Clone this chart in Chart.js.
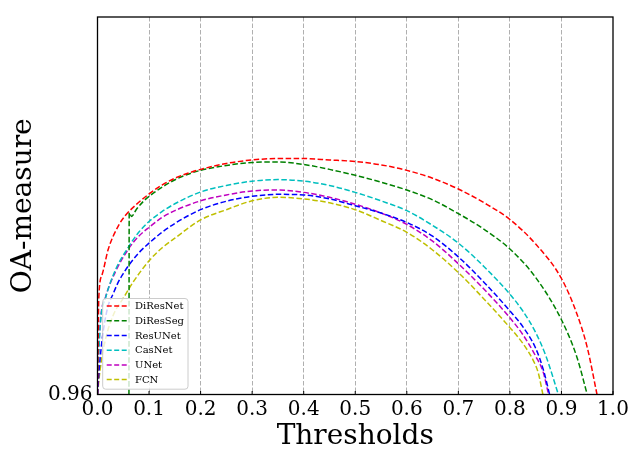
<!DOCTYPE html>
<html><head><meta charset="utf-8">
<script src="https://cdn.jsdelivr.net/npm/chart.js@4.4.0/dist/chart.umd.min.js"></script>
<style>html,body{margin:0;padding:0;background:#fff}#wrap{width:640px;height:465px}</style>
</head><body><div id="wrap"><canvas id="c" width="640" height="465"></canvas></div>
<script>
const xTicks = [0, 0.1, 0.2, 0.3, 0.4, 0.5, 0.6, 0.7, 0.8, 0.9, 1.0];
const yTicks = [0.96];
const seriesNames = ['DiResNet', 'DiResSeg', 'ResUNet', 'CasNet', 'UNet', 'FCN'];

const diresnetX = [0, 0.001, 0.0025, 0.009, 0.021, 0.041, 0.054, 0.079, 0.1, 0.125, 0.15, 0.175, 0.2, 0.25, 0.3, 0.35, 0.4, 0.45, 0.5, 0.55, 0.6, 0.65, 0.7, 0.75, 0.8, 0.85, 0.9, 0.93, 0.95, 0.969];
const diresnetY = [0.96, 0.96225, 0.9649, 0.9661, 0.9674, 0.9686, 0.9691, 0.96975, 0.9702, 0.97065, 0.971, 0.97125, 0.97145, 0.97175, 0.97193, 0.972, 0.972, 0.97193, 0.97185, 0.97168, 0.9714, 0.971, 0.97045, 0.96975, 0.9689, 0.96765, 0.9659, 0.9641, 0.9624, 0.96];

const diresegX = [0.061, 0.0615, 0.066, 0.075, 0.09, 0.101, 0.138, 0.17, 0.2, 0.25, 0.3, 0.35, 0.4, 0.45, 0.5, 0.55, 0.6, 0.65, 0.7, 0.75, 0.8, 0.85, 0.9, 0.93, 0.95];
const diresegY = [0.96, 0.96925, 0.96905, 0.9694, 0.96985, 0.9701, 0.97075, 0.97115, 0.9714, 0.97165, 0.9718, 0.97183, 0.9717, 0.97145, 0.97115, 0.9708, 0.9704, 0.9699, 0.9692, 0.9684, 0.9674, 0.96595, 0.9638, 0.9619, 0.96];

const resunetX = [0, 0.004, 0.01, 0.02, 0.03, 0.04, 0.05, 0.06, 0.08, 0.1, 0.125, 0.15, 0.2, 0.25, 0.3, 0.35, 0.4, 0.45, 0.5, 0.55, 0.6, 0.65, 0.7, 0.75, 0.8, 0.825, 0.85, 0.865, 0.877];
const resunetY = [0.96, 0.9615, 0.963, 0.96445, 0.9651, 0.9657, 0.96615, 0.96655, 0.9672, 0.9677, 0.96825, 0.9687, 0.9694, 0.96983, 0.97008, 0.97018, 0.97015, 0.96995, 0.9696, 0.96923, 0.96875, 0.96805, 0.967, 0.9657, 0.96425, 0.96345, 0.96235, 0.96125, 0.96];

const casnetX = [0, 0.002, 0.006, 0.0155, 0.035, 0.06, 0.08, 0.1, 0.125, 0.15, 0.2, 0.25, 0.3, 0.35, 0.4, 0.45, 0.5, 0.55, 0.6, 0.65, 0.7, 0.75, 0.8, 0.825, 0.85, 0.87, 0.894];
const casnetY = [0.96, 0.96175, 0.96375, 0.9649, 0.96635, 0.9675, 0.96825, 0.9688, 0.9693, 0.9697, 0.9703, 0.97063, 0.97085, 0.97093, 0.97085, 0.97063, 0.97028, 0.96985, 0.96935, 0.9686, 0.9677, 0.9665, 0.9651, 0.96425, 0.96315, 0.96195, 0.96];

const unetX = [0, 0.002, 0.006, 0.0155, 0.035, 0.06, 0.08, 0.1, 0.125, 0.15, 0.2, 0.25, 0.3, 0.35, 0.4, 0.45, 0.5, 0.55, 0.6, 0.65, 0.7, 0.75, 0.8, 0.825, 0.85, 0.865, 0.875];
const unetY = [0.96, 0.962, 0.96385, 0.96495, 0.96625, 0.9674, 0.96805, 0.9685, 0.969, 0.96935, 0.96985, 0.97015, 0.97035, 0.9704, 0.97028, 0.97003, 0.96968, 0.96923, 0.96865, 0.9678, 0.96665, 0.96535, 0.9639, 0.96305, 0.96195, 0.9611, 0.96];

const fcnX = [0, 0.005, 0.015, 0.03, 0.05, 0.07, 0.1, 0.125, 0.15, 0.2, 0.25, 0.3, 0.35, 0.4, 0.45, 0.5, 0.55, 0.6, 0.65, 0.7, 0.75, 0.8, 0.825, 0.845, 0.855, 0.864];
const fcnY = [0.96, 0.96125, 0.96275, 0.964, 0.9649, 0.96575, 0.9668, 0.96745, 0.96795, 0.96888, 0.9694, 0.96985, 0.97003, 0.96995, 0.96975, 0.9694, 0.96885, 0.96825, 0.96735, 0.9662, 0.96485, 0.9634, 0.9626, 0.96175, 0.9611, 0.96];

const seriesX = [diresnetX, diresegX, resunetX, casnetX, unetX, fcnX];
const seriesY = [diresnetY, diresegY, resunetY, casnetY, unetY, fcnY];
const seriesColors = ['#ff0000', '#008000', '#0000ff', '#00bfbf', '#bf00bf', '#bfbf00'];

const FONT = "'DejaVu Serif', serif";
const DASH = [5.5, 2.5];

const datasets = seriesNames.map((name, i) => ({
  label: name,
  data: seriesX[i].map((x, j) => ({x: x, y: seriesY[i][j]})),
  borderColor: seriesColors[i],
  backgroundColor: seriesColors[i],
  borderWidth: 1.5,
  borderDash: DASH,
  pointRadius: 0,
  fill: false,
  cubicInterpolationMode: 'monotone'
}));

const bgPlugin = {
  id: 'bg',
  beforeDraw(chart) {
    const c = chart.ctx;
    c.save(); c.fillStyle = '#fff'; c.fillRect(0, 0, chart.width, chart.height); c.restore();
  }
};

const framePlugin = {
  id: 'frame',
  afterDatasetsDraw(chart) {
    const {ctx, chartArea: a, scales} = chart;
    ctx.save();
    ctx.strokeStyle = '#000';
    ctx.lineWidth = 1.3;
    ctx.strokeRect(a.left, a.top, a.right - a.left, a.bottom - a.top);
    ctx.lineWidth = 1;
    xTicks.forEach(v => {
      const px = scales.x.getPixelForValue(v);
      ctx.beginPath(); ctx.moveTo(px, a.bottom); ctx.lineTo(px, a.bottom - 3.5); ctx.stroke();
    });
    const ds = chart.data.datasets;
    const bw = 85.3, bh = 90.7;
    const bx = a.left + 5.2, by = a.bottom - 5.3 - bh;
    const r = 3;
    ctx.beginPath();
    ctx.moveTo(bx + r, by);
    ctx.lineTo(bx + bw - r, by); ctx.arcTo(bx + bw, by, bx + bw, by + r, r);
    ctx.lineTo(bx + bw, by + bh - r); ctx.arcTo(bx + bw, by + bh, bx + bw - r, by + bh, r);
    ctx.lineTo(bx + r, by + bh); ctx.arcTo(bx, by + bh, bx, by + bh - r, r);
    ctx.lineTo(bx, by + r); ctx.arcTo(bx, by, bx + r, by, r);
    ctx.closePath();
    ctx.fillStyle = 'rgba(255,255,255,0.8)';
    ctx.fill();
    ctx.strokeStyle = '#cccccc';
    ctx.lineWidth = 1;
    ctx.stroke();
    ctx.font = '10px ' + FONT;
    ctx.textBaseline = 'middle';
    ctx.textAlign = 'left';
    ds.forEach((d, i) => {
      const y = by + 7.6 + i * 14.7;
      ctx.strokeStyle = d.borderColor;
      ctx.lineWidth = 1.5;
      ctx.setLineDash([5, 2.5]);
      ctx.beginPath(); ctx.moveTo(bx + 4, y); ctx.lineTo(bx + 24, y); ctx.stroke();
      ctx.setLineDash([]);
      ctx.fillStyle = '#000';
      ctx.fillText(d.label, bx + 32.3, y + 0.5);
    });
    ctx.restore();
  }
};

new Chart(document.getElementById('c'), {
  type: 'line',
  data: {datasets: datasets},
  plugins: [bgPlugin, framePlugin],
  options: {
    responsive: false,
    animation: false,
    devicePixelRatio: 1,
    layout: {padding: {left: 0, right: 27, top: 11, bottom: 0}},
    plugins: {legend: {display: false}, tooltip: {enabled: false}},
    scales: {
      x: {
        type: 'linear',
        min: 0, max: 1,
        afterBuildTicks: s => { s.ticks = xTicks.map(v => ({value: v})); },
        afterFit: s => { s.height = 70.5; },
        ticks: {
          color: '#000', padding: 3, maxRotation: 0, autoSkip: false,
          font: {family: FONT, size: 20},
          callback: v => Number(v).toFixed(1)
        },
        grid: {
          drawTicks: false,
          lineWidth: 1,
          color: c => (c.tick && (c.tick.value === 0 || c.tick.value === 1)) ? 'rgba(0,0,0,0)' : '#b0b0b0'
        },
        border: {display: false, dash: [4.5, 2]},
        title: {display: true, text: 'Thresholds', color: '#000', font: {family: FONT, size: 28}, padding: {top: 0, bottom: 11}}
      },
      y: {
        type: 'linear',
        min: 0.96, max: 0.9792,
        afterBuildTicks: s => { s.ticks = yTicks.map(v => ({value: v})); },
        afterFit: s => { s.width = 97.5; },
        ticks: {
          color: '#000', padding: 5,
          font: {family: FONT, size: 20},
          callback: v => Number(v).toFixed(2)
        },
        grid: {display: false, drawTicks: false},
        border: {display: false},
        title: {display: true, text: 'OA-measure', color: '#000', font: {family: FONT, size: 28}, padding: {top: 7, bottom: 0}}
      }
    }
  }
});
</script>
</body></html>
